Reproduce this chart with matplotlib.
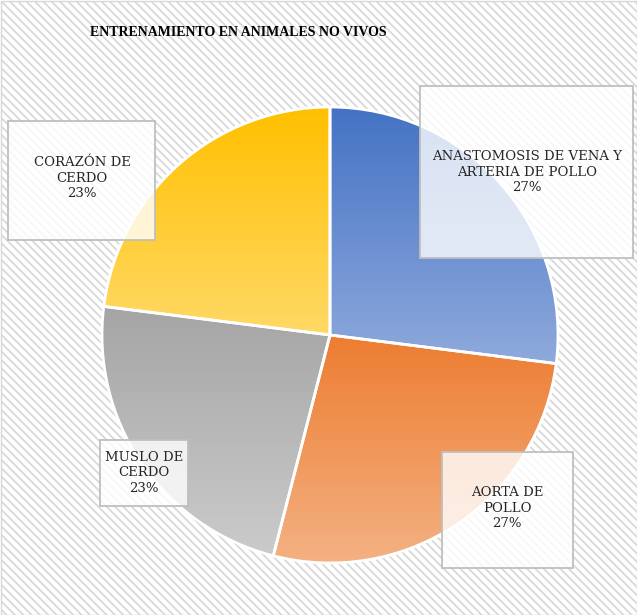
import numpy as np
import matplotlib
matplotlib.use("Agg")
import matplotlib.pyplot as plt
from matplotlib.colors import to_rgb
from matplotlib.patches import Rectangle

# data
labels = ["ANASTOMOSIS DE VENA Y\nARTERIA DE POLLO", "AORTA DE\nPOLLO",
          "MUSLO DE\nCERDO", "CORAZÓN DE\nCERDO"]
values = [27, 27, 23, 23]
top_colors = ["#4472C4", "#ED7D31", "#A5A5A5", "#FFC000"]
bottom_colors = ["#8FAADC", "#F4B183", "#CBCBCB", "#FFD966"]
title = "ENTRENAMIENTO EN ANIMALES NO VIVOS"

W, H = 637, 615
plt.rcParams["hatch.linewidth"] = 1.3
plt.rcParams["hatch.color"] = "#DCDCDC"

fig = plt.figure(figsize=(W / 100, H / 100), dpi=100)
fig.patch.set_facecolor("white")

ax = fig.add_axes([0, 0, 1, 1])
ax.patch.set_alpha(0)
# striped background
ax.add_patch(Rectangle((0.5, 0.5), W - 1, H - 1, facecolor="white", edgecolor="#D9D9D9",
                       hatch="\\\\\\\\", lw=1, zorder=0))

cx, cy, r = 330, H - 335, 228
wedges, _ = ax.pie(values, startangle=90, counterclock=False,
                   center=(cx, cy), radius=r,
                   wedgeprops=dict(facecolor="none", edgecolor="white", linewidth=2))

for w, c0, c1 in zip(wedges, top_colors, bottom_colors):
    ext = w.get_path().get_extents()
    t = np.linspace(0, 1, 256)[:, None]
    grad = (1 - t)[:, :, None] * np.array(to_rgb(c0)) + t[:, :, None] * np.array(to_rgb(c1))
    grad = np.repeat(grad, 2, axis=1)
    im = ax.imshow(grad, extent=[ext.x0, ext.x1, ext.y0, ext.y1], origin="upper",
                   interpolation="bilinear", aspect="auto", zorder=1)
    im.set_clip_path(w)
    w.set_zorder(2)

# label boxes (pixel layout, top-left origin)
boxes = [(420, 86, 633, 258), (442, 452, 573, 568),
         (100, 440, 188, 506), (8, 121, 155, 240)]
text_pos = [(527, 172), (507, 508), (144, 473), (82, 178)]

for lab, v, (x0, y0, x1, y1), (tx, ty) in zip(labels, values, boxes, text_pos):
    ax.add_patch(Rectangle((x0, H - y1), x1 - x0, y1 - y0, facecolor="white",
                           alpha=0.8, edgecolor="none", zorder=3))
    ax.add_patch(Rectangle((x0, H - y1), x1 - x0, y1 - y0, facecolor="none",
                           edgecolor="#BFBFBF", lw=1.3, zorder=4))
    ax.text(tx, H - ty, f"{lab}\n{v}%", ha="center", va="center",
            fontsize=9.5, family="DejaVu Serif", color="#262626",
            linespacing=1.25, zorder=5)

ax.text(238, H - 33, title, ha="center", va="center", fontsize=10,
        family="Liberation Serif", fontweight="bold", color="black", zorder=5)

ax.set_xlim(0, W)
ax.set_ylim(0, H)
ax.set_aspect("auto")
ax.axis("off")

fig.savefig("out.png", dpi=100)
